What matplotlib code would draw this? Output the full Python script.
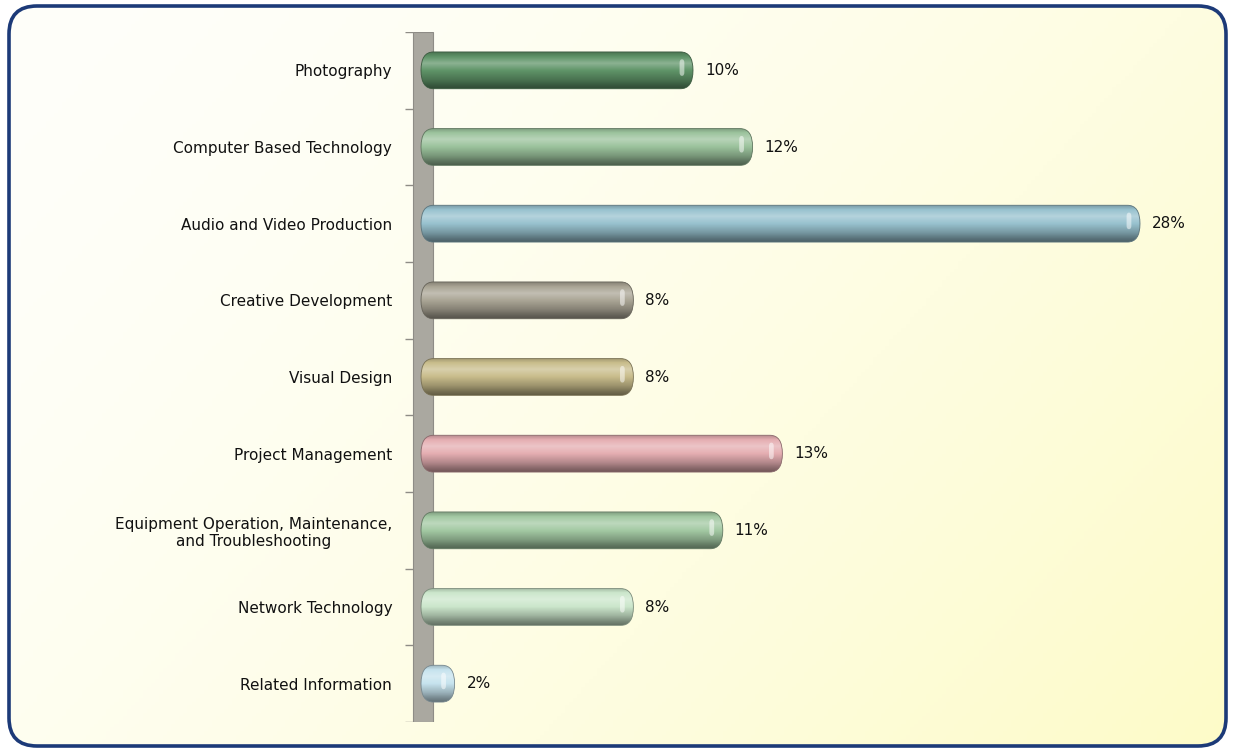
#!/usr/bin/env python3
import numpy as np
import matplotlib
matplotlib.use('Agg')
import matplotlib.pyplot as plt
from matplotlib.patches import FancyBboxPatch, Rectangle
from matplotlib.colors import to_rgb

categories = ['Photography', 'Computer Based Technology', 'Audio and Video Production',
              'Creative Development', 'Visual Design', 'Project Management',
              'Equipment Operation, Maintenance,\nand Troubleshooting',
              'Network Technology', 'Related Information']
# bar lengths as drawn (in % units) and the printed labels
lengths = [10, 12, 25, 8, 8, 13, 11, 8, 2]
pct_labels = ['10%', '12%', '28%', '8%', '8%', '13%', '11%', '8%', '2%']
colors = ['#5f9468', '#9cc39d', '#98c2cf', '#aaa595', '#c9bd8c',
          '#e5aeb2', '#a3c9a3', '#cce7cc', '#c6e3ee']

W, H = 1235, 752
fig = plt.figure(figsize=(W / 100, H / 100), dpi=100)

# background with rounded navy frame
bg = fig.add_axes([0, 0, 1, 1])
bg.set_xlim(0, W)
bg.set_ylim(H, 0)
bg.axis('off')
frame = FancyBboxPatch((9, 6), W - 18, H - 12, boxstyle='round,pad=0,rounding_size=28',
                       fc='none', ec='#1c3a78', lw=2.6, zorder=3)
bg.add_patch(frame)
yy, xx = np.mgrid[0:1:200j, 0:1:300j]
t = np.clip((xx * 0.65 + yy * 0.35), 0, 1)
c0 = np.array(to_rgb('#fffffa'))
c1 = np.array(to_rgb('#fdfbc8'))
img = c0 + (c1 - c0) * (t ** 1.5)[..., None]
im = bg.imshow(img, extent=[9, W - 9, H - 6, 6], aspect='auto', zorder=1)
clipper = FancyBboxPatch((9, 6), W - 18, H - 12, boxstyle='round,pad=0,rounding_size=28',
                         fc='none', ec='none', transform=bg.transData)
im.set_clip_path(clipper)

# main plot area: x in % units, zero hidden behind the wall
px_per = 29.8
x0_px, y_top, y_bot = 395, 32, 722
ax = fig.add_axes([x0_px / W, (H - y_bot) / H, (W - 6 - x0_px) / W, (y_bot - y_top) / H])
ax.patch.set_alpha(0)
n = len(categories)
xmax = (W - 6 - x0_px) / px_per
ax.set_xlim(0, xmax)
ax.set_ylim(n - 0.5, -0.5)
for s in ax.spines.values():
    s.set_visible(False)
ax.set_xticks([])
ax.set_yticks(range(n))
ax.set_yticklabels(categories, fontsize=11, color='#111111', family='DejaVu Sans',
                   ha='right', multialignment='center')
ax.tick_params(axis='y', length=0, pad=2)

# wall
wall_l = (413 - x0_px) / px_per
wall_r = (433 - x0_px) / px_per
ax.add_patch(Rectangle((wall_l, -0.5), wall_r - wall_l, n, fc='#aaa8a0', ec='#8e8c86',
                       lw=0.8, zorder=2))
ax.hlines(np.arange(n + 1) - 0.5, (405 - x0_px) / px_per, wall_l, color='#8e8c86', lw=1, zorder=2)

# cylinder shading profile (top -> bottom)
prof_t = np.array([0.0, 0.12, 0.3, 0.5, 0.75, 0.9, 1.0])
prof_v = np.array([0.8, 1.0, 1.2, 1.0, 0.78, 0.6, 0.5])
tt = np.linspace(0, 1, 60)
shade = np.interp(tt, prof_t, prof_v)

bar_h = 0.48
bar_left = (421 - x0_px) / px_per
rs = 0.42
aspect = (bar_h / 2) / rs
for i, (v, lab, col) in enumerate(zip(lengths, pct_labels, colors)):
    base = np.array(to_rgb(col))
    rows = []
    for s in shade:
        if s >= 1:
            rows.append(base + (1 - base) * (s - 1) * 1.4)
        else:
            rows.append(base * s)
    grad = np.clip(np.array(rows), 0, 1)[:, None, :].repeat(2, axis=1)
    patch = FancyBboxPatch((bar_left, i - bar_h / 2), v - bar_left, bar_h,
                           boxstyle='round,pad=0,rounding_size=%g' % rs, mutation_aspect=aspect,
                           fc='none', ec=tuple(base * 0.6), lw=0.6, zorder=4)
    ax.add_patch(patch)
    gim = ax.imshow(grad, extent=[bar_left, v, i + bar_h / 2, i - bar_h / 2],
                    aspect='auto', zorder=3, interpolation='bilinear')
    gim.set_clip_path(patch)
    # specular glint near the end cap
    glint = FancyBboxPatch((v - 0.45, i - bar_h * 0.3), 0.16, bar_h * 0.45,
                           boxstyle='round,pad=0,rounding_size=0.08', mutation_aspect=aspect,
                           fc='white', ec='none', alpha=0.5, zorder=5)
    ax.add_patch(glint)
    ax.text(v + 0.4, i, lab, va='center', ha='left', fontsize=11, color='#111111', zorder=5)

ax.set_ylim(n - 0.5, -0.5)
ax.set_xlim(0, xmax)
fig.savefig('out.png', dpi=100)
